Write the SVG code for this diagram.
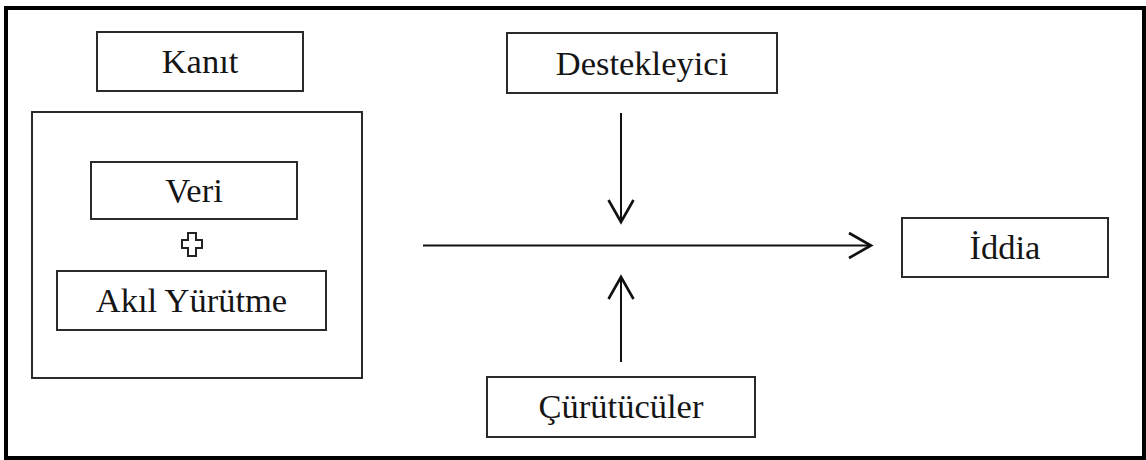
<svg xmlns="http://www.w3.org/2000/svg" width="1146" height="460" viewBox="0 0 1146 460">
  <style>
    .box { fill: #fff; stroke: #2a2a2a; stroke-width: 2; }
    .label { font-family: "Liberation Serif", "Times New Roman", serif; font-size: 34.5px; fill: #151515; text-anchor: middle; }
    .link { fill: none; stroke: #111; stroke-width: 2; }
  </style>
  <defs>
    <marker id="head" markerUnits="userSpaceOnUse" markerWidth="30" markerHeight="30" viewBox="-26 -15 30 30" refX="0" refY="0" orient="auto">
      <path d="M-22,-12.5 L0,0 L-22,12.5" fill="none" stroke="#111" stroke-width="2.6" stroke-linejoin="miter"/>
    </marker>
  </defs>

  <rect width="1146" height="460" fill="#fff"/>
  <!-- outer frame -->
  <rect x="6" y="8" width="1138" height="450" fill="none" stroke="#000" stroke-width="4"/>

  <g id="kanit">
    <rect class="box" x="97" y="32" width="206" height="59"/>
    <text class="label" x="200" y="73">Kanıt</text>
  </g>

  <g id="kanit-grup">
    <rect class="box" x="32" y="112" width="330" height="266"/>
  </g>

  <g id="veri">
    <rect class="box" x="91" y="162" width="206" height="57"/>
    <text class="label" x="194" y="202">Veri</text>
  </g>

  <g id="arti">
    <path d="M188,233 h8 v7 h6 v8 h-6 v8 h-8 v-8 h-6 v-8 h6 z" fill="#fff" stroke="#222" stroke-width="2"/>
  </g>

  <g id="akil-yurutme">
    <rect class="box" x="57" y="271" width="269" height="59"/>
    <text class="label" x="191.5" y="312">Akıl Yürütme</text>
  </g>

  <g id="destekleyici">
    <rect class="box" x="507" y="33" width="270" height="60"/>
    <text class="label" x="642" y="75">Destekleyici</text>
  </g>

  <g id="curutuculer">
    <rect class="box" x="487" y="377" width="268" height="60"/>
    <text class="label" x="621" y="418">Çürütücüler</text>
  </g>

  <g id="iddia">
    <rect class="box" x="902" y="218" width="206" height="59"/>
    <text class="label" x="1005" y="259">İddia</text>
  </g>

  <g id="connectors">
    <line class="link" x1="423" y1="245.5" x2="871" y2="245.5" marker-end="url(#head)"/>
    <line class="link" x1="621" y1="113" x2="621" y2="222" marker-end="url(#head)"/>
    <line class="link" x1="621" y1="362" x2="621" y2="277" marker-end="url(#head)"/>
  </g>
</svg>
